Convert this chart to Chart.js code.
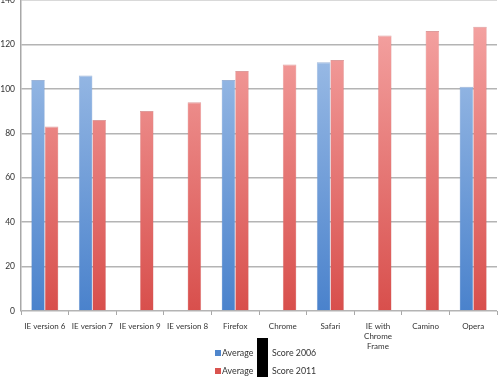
<!DOCTYPE html>
<html><head><meta charset="utf-8">
<script src="https://cdn.jsdelivr.net/npm/chart.js@4"></script>
<style>
html,body{margin:0;padding:0;background:#fff;}
#wrap{position:relative;width:500px;height:377px;overflow:hidden;}
canvas{position:absolute;left:0;top:0;}
.lg{position:absolute;font-family:Lato,"Open Sans",sans-serif;font-size:8.8px;color:#333;white-space:nowrap;line-height:10px;}
.sw{position:absolute;width:6px;height:6px;}
#blk{position:absolute;left:257px;top:338px;width:11px;height:39px;background:#000;}
</style></head><body>
<div id="wrap">
<canvas id="c" width="500" height="377"></canvas>
<span class="sw" style="left:215px;top:350px;background:#4f86cc"></span>
<div class="lg" style="left:222px;top:348px;">Average</div>
<div class="lg" style="left:272px;top:348px;">Score 2006</div>
<span class="sw" style="left:215px;top:368px;background:#d9534f"></span>
<div class="lg" style="left:222px;top:366px;">Average</div>
<div class="lg" style="left:272px;top:366px;">Score 2011</div>
<div id="blk"></div>
</div>
<script>
const categories = ["IE version 6","IE version 7","IE version 9","IE version 8","Firefox","Chrome","Safari",["IE with","Chrome","Frame"],"Camino","Opera"];
const score2006 = [104,106,null,null,104,null,112,null,null,101];
const score2011 = [83,86,90,94,108,111,113,124,126,128];
const yTicks = [0,20,40,60,80,100,120,140];

function grad(ctx, top, bottom){
  const ch = ctx.chart; const a = ch.chartArea;
  if(!a) return bottom;
  const g = ch.ctx.createLinearGradient(0,a.top,0,a.bottom);
  g.addColorStop(0,top); g.addColorStop(1,bottom);
  return g;
}
new Chart(document.getElementById('c'),{
  type:'bar',
  data:{labels:categories,datasets:[
    {label:'Average Score 2006',data:score2006,
     backgroundColor:c=>grad(c,'#aac6ea','#4a82cc'),borderColor:'rgba(90,130,190,0.6)',borderWidth:{left:0.5,right:0.5,top:1,bottom:0},
     categoryPercentage:0.57,barPercentage:1},
    {label:'Average Score 2011',data:score2011,
     backgroundColor:c=>grad(c,'#f6a9a8','#d84f4c'),borderColor:'rgba(200,90,90,0.6)',borderWidth:{left:0.5,right:0.5,top:1,bottom:0},
     categoryPercentage:0.57,barPercentage:1}
  ]},
  options:{
    responsive:false,animation:false,
    layout:{padding:{top:0,right:3,left:0,bottom:0}},
    plugins:{legend:{display:false},tooltip:{enabled:false}},
    scales:{
      x:{
        grid:{drawOnChartArea:false,drawTicks:true,tickLength:4,color:'#a8a8a8',lineWidth:1},
        border:{display:false},
        ticks:{font:{family:'Lato',size:8,lineHeight:1.25},color:'#333',padding:6,maxRotation:0,autoSkip:false},
        afterFit(s){s.height=66;}
      },
      y:{
        min:0,max:140,
        afterBuildTicks(s){s.ticks=yTicks.map(v=>({value:v}));},
        grid:{color:'#b4b4b4',lineWidth:1.5,drawTicks:false},
        border:{display:true,color:'#a8a8a8',width:1.5},
        ticks:{font:{family:'Lato',size:8.5},color:'#333',padding:6},
        afterFit(s){s.width=21;s.paddingTop=0;s.paddingBottom=0;}
      }
    }
  }
});
</script>
</body></html>
